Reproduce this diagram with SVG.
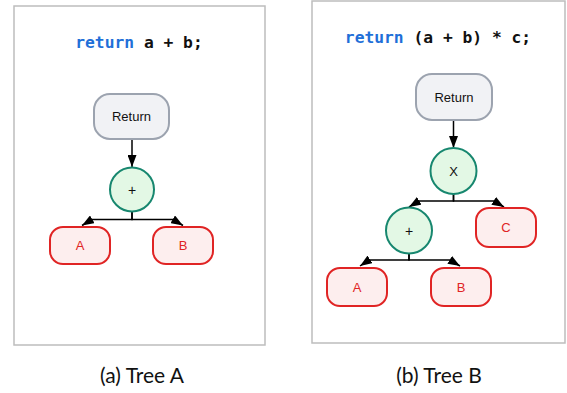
<svg xmlns="http://www.w3.org/2000/svg" width="567" height="393" viewBox="0 0 567 393">
<defs>
<marker id="ah" viewBox="0 0 12 9" refX="12" refY="4.5" markerWidth="12" markerHeight="9" markerUnits="userSpaceOnUse" orient="auto">
<path d="M0,0 L12,4.5 L0,9 z" fill="#000"/>
</marker>
<style>
.panel{fill:#fff;stroke:#bdbdbd;stroke-width:1.5}
.code{font-family:"DejaVu Sans Mono","Liberation Mono",monospace;font-weight:bold;font-size:16.3px;fill:#111}
.kw{fill:#1f6fd8}
.ret{fill:#f1f2f5;stroke:#9ca3af;stroke-width:2}
.op{fill:#e3f8e5;stroke:#17876f;stroke-width:2}
.leaf{fill:#fdeeee;stroke:#e02424;stroke-width:2}
.lbl{font-family:"Liberation Sans",Arial,sans-serif;font-size:13px;fill:#111;text-anchor:middle}
.lr{fill:#e02424}
.edge{fill:none;stroke:#000;stroke-width:1.5;marker-end:url(#ah)}
.cap{font-family:Lato,"Open Sans",sans-serif;font-size:21px;fill:#111;text-anchor:middle}
</style>
</defs>
<rect x="0" y="0" width="567" height="393" fill="#fff"/>

<g id="panelA">
<rect class="panel" x="14" y="6" width="251" height="339"/>
<text class="code" x="139" y="48" text-anchor="middle"><tspan class="kw">return</tspan> a + b;</text>
</g>
<g id="panelB">
<rect class="panel" x="312" y="1" width="253" height="342"/>
<text class="code" x="438" y="43" text-anchor="middle"><tspan class="kw">return</tspan> (a + b) * c;</text>
</g>

<g id="connectors">
<path class="edge" d="M132,139 V167"/>
<path class="edge" d="M132,212 V219.5 H92 L82,225.5"/>
<path class="edge" d="M132,212 V219.5 H173 L183,225.5"/>
<path class="edge" d="M453.5,120 V148"/>
<path class="edge" d="M453.5,194 V201 H419 L409,207"/>
<path class="edge" d="M453.5,194 V201 H494 L504,207"/>
<path class="edge" d="M409,253 V260 H369 L360,266"/>
<path class="edge" d="M409,253 V260 H450 L460,266"/>
</g>

<g id="a-return">
<rect class="ret" x="94" y="94" width="75" height="45" rx="16"/>
<text class="lbl" x="131.5" y="121">Return</text>
</g>
<g id="a-plus">
<circle class="op" cx="132" cy="189.5" r="22"/>
<text class="lbl" x="132" y="194.5" style="font-size:14px">+</text>
</g>
<g id="a-A">
<rect class="leaf" x="50" y="227" width="60" height="37" rx="13"/>
<text class="lbl lr" x="80" y="250">A</text>
</g>
<g id="a-B">
<rect class="leaf" x="153" y="227" width="60" height="37" rx="13"/>
<text class="lbl lr" x="183" y="250">B</text>
</g>

<g id="b-return">
<rect class="ret" x="416" y="74" width="76" height="46" rx="16"/>
<text class="lbl" x="454" y="101.5">Return</text>
</g>
<g id="b-times">
<circle class="op" cx="453.5" cy="171" r="23"/>
<text class="lbl" x="453.5" y="175.5">X</text>
</g>
<g id="b-plus">
<circle class="op" cx="409" cy="230.5" r="23"/>
<text class="lbl" x="409" y="235.5" style="font-size:14px">+</text>
</g>
<g id="b-C">
<rect class="leaf" x="476" y="208" width="60" height="39" rx="13"/>
<text class="lbl lr" x="506" y="232">C</text>
</g>
<g id="b-A">
<rect class="leaf" x="327" y="268" width="60" height="38" rx="13"/>
<text class="lbl lr" x="357" y="291.5">A</text>
</g>
<g id="b-B">
<rect class="leaf" x="431" y="268" width="60" height="38" rx="13"/>
<text class="lbl lr" x="461" y="291.5">B</text>
</g>

<text class="cap" x="142" y="383">(a) Tree A</text>
<text class="cap" x="439" y="383">(b) Tree B</text>
</svg>
